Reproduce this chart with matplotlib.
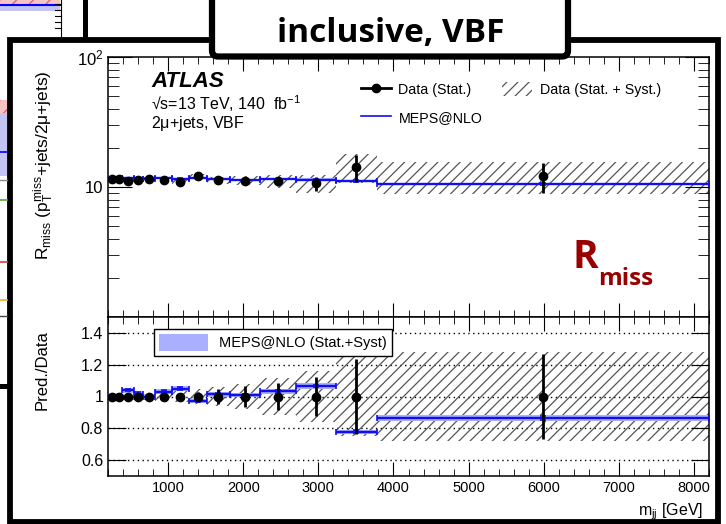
import numpy as np
import matplotlib.pyplot as plt
from matplotlib.patches import Rectangle, FancyBboxPatch, Patch
from matplotlib.lines import Line2D
from matplotlib.ticker import MultipleLocator, FixedLocator, FuncFormatter

plt.rcParams['font.family'] = ['Liberation Sans', 'DejaVu Sans']
plt.rcParams['mathtext.fontset'] = 'custom'
plt.rcParams['mathtext.rm'] = 'Liberation Sans'
plt.rcParams['mathtext.it'] = 'Liberation Sans:italic'
plt.rcParams['hatch.linewidth'] = 0.9

# m_jj bin edges [GeV]
edges = np.array([200, 300, 380, 540, 670, 830, 1050, 1280, 1520,
                  1820, 2220, 2700, 3230, 3780, 8200])
# measured R_miss
data = np.array([11.5, 11.6, 11.2, 11.3, 11.6, 11.3, 11.0, 12.1,
                 11.3, 11.2, 11.1, 10.7, 14.3, 12.2])
# relative stat. uncertainty of data
data_stat = np.array([0.01, 0.01, 0.01, 0.01, 0.012, 0.015, 0.02, 0.03,
                      0.05, 0.065, 0.085, 0.125, 0.235, 0.265])
# relative total (stat.+syst.) uncertainty of data
data_tot = np.array([0.02, 0.02, 0.02, 0.02, 0.025, 0.03, 0.035, 0.045,
                     0.06, 0.08, 0.115, 0.16, 0.25, 0.28])
# MEPS@NLO prediction
pred = np.array([11.5, 11.6, 11.65, 11.5, 11.6, 11.65, 11.55, 11.75,
                 11.45, 11.3, 11.45, 11.4, 11.15, 10.55])
pred_stat = np.array([0.008] * 12 + [0.012, 0.012])
pred_tot = np.array([0.015] * 10 + [0.018, 0.02, 0.016, 0.025])

centers = 0.5 * (edges[:-1] + edges[1:])
halfw = 0.5 * np.diff(edges)
ratio = pred / data

W, H = 726, 524
fig = plt.figure(figsize=(W / 100, H / 100), dpi=100)


def fx(px):
    return px / W


def fy(py):
    return 1 - py / H


ax1 = fig.add_axes([fx(108), fy(317), 601 / W, 260 / H])
ax2 = fig.add_axes([fx(108), fy(476), 601 / W, 159 / H])

hatch_col = '#555555'
blue = '#1010ee'
band_col = '#aab0ff'

# ---- upper panel
ax1.bar(edges[:-1], 2 * data * data_tot, bottom=data * (1 - data_tot),
        width=np.diff(edges), align='edge', fill=False, hatch='///',
        edgecolor=hatch_col, linewidth=0, zorder=1)
ax1.bar(edges[:-1], 2 * pred * pred_tot, bottom=pred * (1 - pred_tot),
        width=np.diff(edges), align='edge', color=band_col, linewidth=0, zorder=2)
ax1.errorbar(centers, pred, xerr=halfw, yerr=pred * pred_stat, fmt='none',
             ecolor=blue, elinewidth=1.7, capsize=2.5, capthick=1.2, zorder=3)
ax1.errorbar(centers, data, yerr=data * data_stat, fmt='o', color='black',
             ms=6, elinewidth=2, capsize=0, zorder=4)
ax1.set_yscale('log')
ax1.set_ylim(1, 100)
ax1.set_xlim(200, 8200)
ax1.yaxis.set_major_locator(FixedLocator([10, 100]))
ax1.yaxis.set_major_formatter(FuncFormatter(
    lambda v, p: '10' if abs(v - 10) < 1e-6 else r'$\mathregular{10^{2}}$'))
ax1.yaxis.set_minor_locator(FixedLocator(
    [m * d for d in (1, 10) for m in range(2, 10)]))
ax1.yaxis.set_minor_formatter(FuncFormatter(lambda v, p: ''))
ax1.tick_params(axis='y', which='major', length=17, labelsize=12)
ax1.tick_params(axis='y', which='minor', length=8)
ax1.tick_params(axis='x', labelbottom=False)

ax1.text(0.072, 0.885, 'ATLAS', transform=ax1.transAxes, fontsize=16,
         fontweight='bold', fontstyle='italic', va='baseline')
ax1.text(0.072, 0.797, '√s=13 TeV, 140  fb$^{\\mathregular{-1}}$',
         transform=ax1.transAxes, fontsize=11.5, va='baseline')
ax1.text(0.072, 0.728, r'2$\mathregular{\mu}$+jets, VBF', transform=ax1.transAxes,
         fontsize=11.5, va='baseline')

h_data = Line2D([], [], color='black', marker='o', ms=6, lw=2)
h_meps = Line2D([], [], color=blue, lw=1.2)
h_hatch = Patch(facecolor='none', edgecolor=hatch_col, hatch='///', linewidth=0)
ax1.legend([h_data, h_meps, h_hatch],
           ['Data (Stat.)', 'MEPS@NLO', 'Data (Stat. + Syst.)'],
           ncol=2, frameon=False, fontsize=10.3, loc='upper left',
           bbox_to_anchor=(0.40, 0.955), handlelength=2.1, handleheight=1.2,
           labelspacing=0.95, columnspacing=1.4, handletextpad=0.5)

# ---- lower panel
for v in [0.6, 0.8, 1.0, 1.2, 1.4]:
    ax2.axhline(v, color='black', lw=1, ls=(0, (1, 2.5)), zorder=0)
ax2.bar(edges[:-1], 2 * data_tot, bottom=1 - data_tot, width=np.diff(edges),
        align='edge', fill=False, hatch='///', edgecolor=hatch_col,
        linewidth=0, zorder=1)
ax2.bar(edges[:-1], 2 * ratio * pred_tot, bottom=ratio * (1 - pred_tot),
        width=np.diff(edges), align='edge', color=band_col, linewidth=0, zorder=2)
ax2.errorbar(centers, ratio, xerr=halfw, yerr=ratio * pred_stat, fmt='none',
             ecolor=blue, elinewidth=1.7, capsize=2.5, capthick=1.2, zorder=3)
ax2.errorbar(centers, np.ones_like(data), yerr=data_stat, fmt='o',
             color='black', ms=6, elinewidth=2, capsize=0, zorder=4)
ax2.set_xlim(200, 8200)
ax2.set_ylim(0.5, 1.5)
ax2.yaxis.set_major_locator(FixedLocator([0.6, 0.8, 1.0, 1.2, 1.4]))
ax2.yaxis.set_major_formatter(FuncFormatter(lambda v, p: f'{v:g}'))
ax2.tick_params(axis='y', which='major', length=13, labelsize=11.5)
ax2.tick_params(axis='x', labelsize=10.5)
ax2.legend([Patch(facecolor=band_col, edgecolor='none')],
           ['MEPS@NLO (Stat.+Syst)'], loc='upper left',
           bbox_to_anchor=(0.065, 0.97), fontsize=10.5, fancybox=False,
           edgecolor='black', framealpha=1, handlelength=3.3, handleheight=1.4,
           borderpad=0.35)
ax2.set_xlabel(r'm$_{\mathregular{jj}}$ [GeV]', fontsize=11.5, loc='right')
ax2.xaxis.set_label_coords(0.99, -0.16)

for ax in (ax1, ax2):
    ax.xaxis.set_major_locator(MultipleLocator(1000))
    ax.xaxis.set_minor_locator(MultipleLocator(200))
    ax.tick_params(which='both', direction='in', top=True, right=True)
    ax.tick_params(axis='x', which='major', length=10)
    ax.tick_params(axis='x', which='minor', length=5)
    for s in ax.spines.values():
        s.set_linewidth(1.1)

fig.text(fx(44), fy(165),
         r'R$_{\mathregular{miss}}$ (p$_{\mathregular{T}}^{\mathregular{miss}}$+jets/2$\mathregular{\mu}$+jets)',
         rotation=90, ha='center', va='center', fontsize=12.5)
fig.text(fx(42), fy(370), 'Pred./Data', rotation=90, ha='center',
         va='center', fontsize=12)

# ---- panel decorations (pixel coordinates)
ov = fig.add_axes([0, 0, 1, 1], zorder=10)
ov.set_xlim(0, W)
ov.set_ylim(H, 0)
ov.axis('off')
ov.patch.set_visible(False)

# bits of neighbouring panels
ov.add_patch(Rectangle((0, 0), 60, 4, facecolor='#f6c4c4', edgecolor='#e06060',
                       hatch='//', linewidth=0))
ov.add_patch(Rectangle((0, 4), 60, 7, facecolor='#c4c4f4', linewidth=0))
ov.plot([0, 60], [5, 5], color='blue', lw=1.5)
ov.plot([61, 61], [0, 37], color='black', lw=0.8)
for yy in [4, 10, 16, 22, 28]:
    ov.plot([55, 61], [yy, yy], color='black', lw=0.8)
ov.plot([85, 85], [0, 37], color='black', lw=3.6)
ov.add_patch(Rectangle((0, 100), 7, 13, facecolor='#f6c4c4', edgecolor='#e06060',
                       hatch='//', linewidth=0))
ov.add_patch(Rectangle((0, 113), 7, 63, facecolor='#c4c4f4', linewidth=0))
ov.plot([0, 7], [152, 152], color='blue', lw=1.2)
ov.plot([0, 7], [180, 180], color='#888888', lw=1)
ov.plot([0, 7], [200, 200], color='#55aa33', lw=1.2)
ov.plot([0, 7], [262, 262], color='#cc4433', lw=1.2)
ov.plot([0, 7], [300, 300], color='#eeaa22', lw=1.2)
ov.plot([0, 7], [316, 316], color='#444444', lw=1)
ov.plot([0, 8], [386, 386], color='black', lw=3.6)

# main frame
ov.add_patch(Rectangle((9.5, 39.5), 708.5, 482, fill=False, edgecolor='black',
                       linewidth=4.2))

# title box
ov.add_patch(FancyBboxPatch((212, -20), 356, 76.5,
                            boxstyle='round,pad=0,rounding_size=6',
                            facecolor='white', edgecolor='black', linewidth=4.5))
ov.text(391, 42, 'inclusive, VBF', ha='center', va='baseline', fontsize=24,
        fontweight='bold', family=['Open Sans', 'DejaVu Sans'])

ov.text(572, 268, 'R', ha='left', va='baseline', fontsize=28, fontweight='bold',
        color='#990000', family=['Open Sans', 'DejaVu Sans'])
ov.text(598, 285, 'miss', ha='left', va='baseline', fontsize=17.5,
        fontweight='bold', color='#990000', family=['Open Sans', 'DejaVu Sans'])

fig.savefig('out.png', dpi=100)
